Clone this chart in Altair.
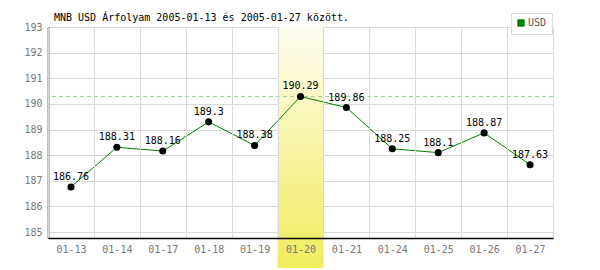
import altair as alt
import pandas as pd

days = ["01-13", "01-14", "01-17", "01-18", "01-19", "01-20", "01-21", "01-24", "01-25", "01-26", "01-27"]
rates = [186.76, 188.31, 188.16, 189.3, 188.38, 190.29, 189.86, 188.25, 188.1, 188.87, 187.63]
highlight_day = "01-20"
max_rate = max(rates)
y_ticks = [185, 186, 187, 188, 189, 190, 191, 192, 193]

df = pd.DataFrame({"day": days, "rate": rates, "series": ["USD"] * len(days)})
hl = pd.DataFrame({"day": [highlight_day]})
mx = pd.DataFrame({"rate": [max_rate]})

FONT = "DejaVu Sans Mono"

xscale = alt.Scale(domain=days, paddingInner=0, paddingOuter=0)
yscale = alt.Scale(domain=[184.77, 193], nice=False, zero=False)

xaxis = alt.Axis(title=None, tickBand="extent", grid=True, ticks=False, domainColor="black", domainWidth=1.5,
                 gridColor="#d9d9d9", labelColor="#777777", labelFont=FONT, labelFontSize=10,
                 labelPadding=6, labelAngle=0)
yaxis = alt.Axis(title=None, values=y_ticks, grid=True, ticks=False, domainColor="black", domainWidth=1.5,
                 gridColor="#d9d9d9", labelColor="#777777", labelFont=FONT, labelFontSize=10,
                 labelPadding=6)

band = alt.Chart(hl).mark_rect(
    clip=False,
    fill=alt.Gradient(gradient="linear", x1=0, x2=0, y1=0, y2=1,
                      stops=[alt.GradientStop(color="#fefdf0", offset=0),
                             alt.GradientStop(color="#f0ec5c", offset=1)])
).encode(
    x=alt.X("day:N", scale=xscale, axis=xaxis),
    y=alt.value(0),
    y2=alt.value(241),
)

rule = alt.Chart(mx).mark_rule(color="#99d699", strokeDash=[4, 3], strokeWidth=1).encode(
    y=alt.Y("rate:Q", scale=yscale, axis=yaxis)
)

line = alt.Chart(df).mark_line(strokeWidth=1).encode(
    x=alt.X("day:N", scale=xscale, axis=xaxis),
    y=alt.Y("rate:Q", scale=yscale, axis=yaxis),
    color=alt.Color("series:N", scale=alt.Scale(domain=["USD"], range=["#008000"]),
                    legend=alt.Legend(title=None, orient="none", legendX=463, legendY=-14,
                                      symbolType="square", symbolSize=40,
                                      symbolFillColor="#008000", symbolStrokeColor="#444444",
                                      symbolStrokeWidth=1,
                                      labelFont=FONT, labelFontSize=10, labelColor="#555555",
                                      padding=5, strokeColor="#dddddd", fillColor="white",
                                      labelOffset=2)),
)

points = alt.Chart(df).mark_circle(size=50, color="black", opacity=1).encode(
    x=alt.X("day:N", scale=xscale, axis=xaxis),
    y=alt.Y("rate:Q", scale=yscale, axis=yaxis),
)

labels = alt.Chart(df).mark_text(dy=-10, font=FONT, fontSize=10, color="black").encode(
    x=alt.X("day:N", scale=xscale, axis=xaxis),
    y=alt.Y("rate:Q", scale=yscale, axis=yaxis),
    text=alt.Text("rate:Q", format=".2~f"),
)

chart = alt.layer(band, rule, line, points, labels).properties(
    width=505, height=211,
    autosize=alt.AutoSizeParams(type="none"),
    padding={"left": 48, "top": 27, "right": 47, "bottom": 32},
    title=alt.TitleParams("MNB USD Árfolyam 2005-01-13 és 2005-01-27 között.", anchor="start",
                          frame="group", dx=6, dy=16, offset=6, font=FONT, fontSize=10,
                          fontWeight="normal", color="black"),
).configure_view(stroke=None).configure_axis(gridWidth=1)

chart.save("out.html", embed_options={"renderer": "svg", "actions": False})
